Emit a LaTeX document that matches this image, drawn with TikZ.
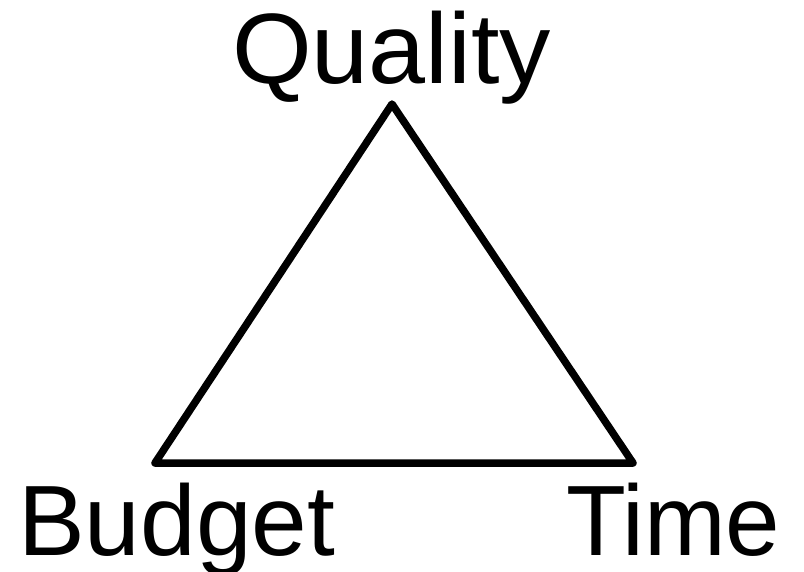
\documentclass[tikz,border=0pt]{standalone}
\usepackage{fontspec}
\setmainfont{Liberation Sans}
\begin{document}
\begin{tikzpicture}[x=1pt,y=-1pt,
  lbl/.style={inner sep=0pt,anchor=base west,font=\fontsize{100}{100}\selectfont},
  edge/.style={line width=7.5pt,line join=round,line cap=round}]
\useasboundingbox (0,0) rectangle (804,572);
\coordinate (top) at (392,104);
\coordinate (bl) at (155,463);
\coordinate (br) at (633,463);
\draw[edge] (top) -- (bl) -- (br) -- cycle;
\node[lbl,xscale=1.025] (q) at (232,84) {Quality};
\node[lbl] (b) at (18,555) {Budget};
\node[lbl,xscale=0.98] (t) at (566,555) {Time};
\end{tikzpicture}
\end{document}
